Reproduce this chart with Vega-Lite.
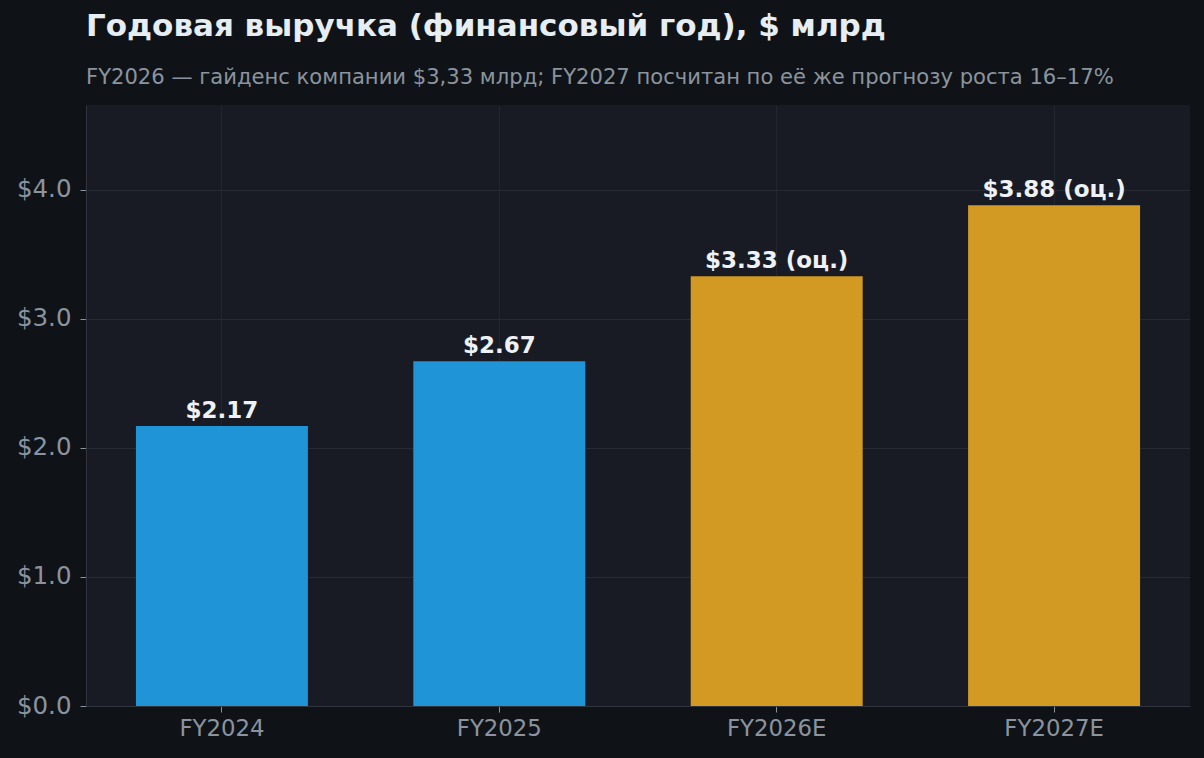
{
  "$schema": "https://vega.github.io/schema/vega-lite/v6.json",
  "autosize": "none",
  "width": 1104,
  "height": 601,
  "padding": {"left": 86, "top": 105, "right": 14, "bottom": 52},
  "background": "#0f1317",
  "title": {
    "text": "Годовая выручка (финансовый год), $ млрд",
    "subtitle": "FY2026 — гайденс компании $3,33 млрд; FY2027 посчитан по её же прогнозу роста 16–17%",
    "anchor": "start",
    "frame": "group",
    "font": "DejaVu Sans",
    "fontSize": 31,
    "fontWeight": "bold",
    "color": "#e6edf3",
    "subtitleFont": "DejaVu Sans",
    "subtitleFontSize": 21.1,
    "subtitleColor": "#8b949e",
    "subtitlePadding": 24,
    "offset": 16
  },
  "config": {
    "view": {"fill": "#181b23", "stroke": null},
    "axis": {
      "labelFont": "DejaVu Sans",
      "labelColor": "#8b949e",
      "domainColor": "#30353d",
      "tickColor": "#8b949e",
      "gridColor": "#262a33",
      "gridWidth": 1,
      "tickSize": 6,
      "title": null
    }
  },
  "data": {
    "values": [
      {"year": "FY2024", "revenue": 2.17, "label": "$2.17", "kind": "факт"},
      {"year": "FY2025", "revenue": 2.67, "label": "$2.67", "kind": "факт"},
      {"year": "FY2026E", "revenue": 3.33, "label": "$3.33 (оц.)", "kind": "оценка"},
      {"year": "FY2027E", "revenue": 3.88, "label": "$3.88 (оц.)", "kind": "оценка"}
    ]
  },
  "encoding": {
    "x": {
      "field": "year",
      "type": "nominal",
      "sort": null,
      "scale": {"paddingInner": 0.38, "paddingOuter": 0.18},
      "axis": {
        "labelAngle": 0,
        "labelFontSize": 22.8,
        "labelPadding": 5,
        "grid": true,
        "gridColor": "#22262e",
        "domainColor": "#30353d"
      }
    },
    "y": {
      "field": "revenue",
      "type": "quantitative",
      "scale": {"domain": [0, 4.656], "nice": false},
      "axis": {
        "values": [0, 1, 2, 3, 4],
        "labelExpr": "'$' + format(datum.value, '.1f')",
        "labelFontSize": 24.5,
        "labelPadding": 9,
        "grid": true
      }
    }
  },
  "layer": [
    {
      "mark": {"type": "bar"},
      "encoding": {
        "color": {
          "field": "kind",
          "type": "nominal",
          "scale": {"domain": ["факт", "оценка"], "range": ["#1f94d7", "#d29a23"]},
          "legend": null
        }
      }
    },
    {
      "mark": {
        "type": "text",
        "baseline": "alphabetic",
        "dy": -8,
        "font": "DejaVu Sans",
        "fontSize": 23,
        "fontWeight": "bold",
        "color": "#eef1f5"
      },
      "encoding": {"text": {"field": "label"}}
    }
  ]
}
